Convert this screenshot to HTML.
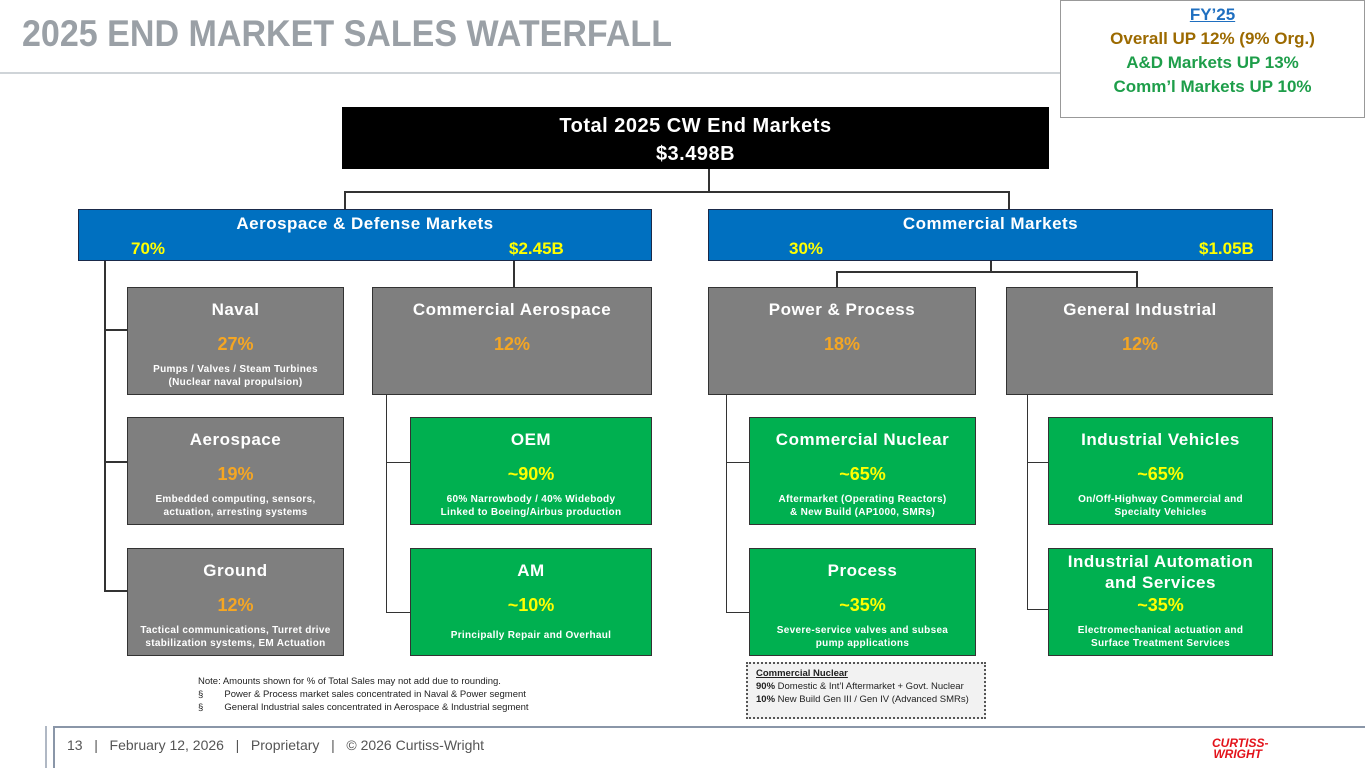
<!DOCTYPE html>
<html><head><meta charset="utf-8"><style>
body{margin:0;width:1365px;height:768px;overflow:hidden;background:#fff;font-family:"Liberation Sans",sans-serif;position:relative}
div{box-sizing:border-box}
.a{position:absolute}
.ln{position:absolute;background:#333}
.box{position:absolute;color:#fff;text-align:center;font-weight:bold;border:1px solid #333}
.gray{background:#7f7f7f}
.green{background:#00b050}
.t{position:absolute;left:0;right:0;top:12px;font-size:17px;letter-spacing:0.5px}
.p{position:absolute;left:0;right:0;top:46px;font-size:18px}
.gray .p{color:#f5a623}
.green .p{color:#ffff00}
.d{position:absolute;left:0;right:0;top:75px;font-size:10px;line-height:13px;letter-spacing:0.3px}
.blue{position:absolute;background:#0070c0;border:1px solid #1a2a4a;color:#fff;font-weight:bold}
</style></head><body>
<div class="a" style="left:22px;top:13px;font-size:37px;font-weight:bold;color:#9aa0a6;font-family:'Liberation Sans Narrow','Liberation Sans',sans-serif;transform:scaleX(0.92);transform-origin:left;white-space:nowrap">2025 END MARKET SALES WATERFALL</div>
<div class="a" style="left:0;top:72px;width:1062px;height:2px;background:#cfd4d8"></div>
<div class="a" style="left:1060px;top:0;width:305px;height:118px;border:1px solid #999;background:#fff;text-align:center;font-weight:bold;font-size:17px;line-height:24px;padding-top:2px;font-family:'Liberation Sans Narrow','Liberation Sans',sans-serif">
<div style="color:#1f6fc0;text-decoration:underline">FY’25</div>
<div style="color:#9c6a00">Overall UP 12% (9% Org.)</div>
<div style="color:#1e9e4a">A&amp;D Markets UP 13%</div>
<div style="color:#1e9e4a">Comm’l Markets UP 10%</div>
</div>
<div class="a" style="left:342px;top:107px;width:707px;height:62px;background:#000;color:#fff;text-align:center;font-weight:bold;font-size:20px;line-height:28px;padding-top:5px;letter-spacing:0.5px">Total 2025 CW End Markets<br>$3.498B</div>
<div class="ln" style="left:708px;top:169px;width:2px;height:24px"></div>
<div class="ln" style="left:344px;top:191px;width:666px;height:2px"></div>
<div class="ln" style="left:344px;top:191px;width:2px;height:18px"></div>
<div class="ln" style="left:1008px;top:191px;width:2px;height:18px"></div>
<div class="blue" style="left:78px;top:209px;width:574px;height:52px"><div class="a" style="left:0;right:0;top:4px;text-align:center;font-size:17px;letter-spacing:0.5px">Aerospace &amp; Defense Markets</div><div class="a" style="left:52px;top:29px;font-size:17px;color:#ffff00">70%</div><div class="a" style="left:430px;top:29px;font-size:17px;color:#ffff00">$2.45B</div></div>
<div class="blue" style="left:708px;top:209px;width:565px;height:52px"><div class="a" style="left:0;right:0;top:4px;text-align:center;font-size:17px;letter-spacing:0.5px">Commercial Markets</div><div class="a" style="left:80px;top:29px;font-size:17px;color:#ffff00">30%</div><div class="a" style="left:490px;top:29px;font-size:17px;color:#ffff00">$1.05B</div></div>
<div class="ln" style="left:104px;top:261px;width:2px;height:331px"></div>
<div class="ln" style="left:104px;top:329px;width:24px;height:2px"></div>
<div class="ln" style="left:104px;top:461px;width:24px;height:2px"></div>
<div class="ln" style="left:104px;top:590px;width:24px;height:2px"></div>
<div class="ln" style="left:513px;top:261px;width:2px;height:26px"></div>
<div class="ln" style="left:990px;top:261px;width:2px;height:12px"></div>
<div class="ln" style="left:836px;top:271px;width:302px;height:2px"></div>
<div class="ln" style="left:836px;top:271px;width:2px;height:16px"></div>
<div class="ln" style="left:1136px;top:271px;width:2px;height:16px"></div>
<div class="ln" style="left:386px;top:394px;width:1px;height:219px"></div>
<div class="ln" style="left:386px;top:462px;width:24px;height:1px"></div>
<div class="ln" style="left:386px;top:612px;width:24px;height:1px"></div>
<div class="ln" style="left:726px;top:394px;width:1px;height:219px"></div>
<div class="ln" style="left:726px;top:462px;width:23px;height:1px"></div>
<div class="ln" style="left:726px;top:612px;width:23px;height:1px"></div>
<div class="ln" style="left:1027px;top:394px;width:1px;height:216px"></div>
<div class="ln" style="left:1027px;top:462px;width:21px;height:1px"></div>
<div class="ln" style="left:1027px;top:609px;width:21px;height:1px"></div>

<div class="box gray" style="left:127px;top:287px;width:217px;height:108px"><div class="t">Naval</div><div class="p">27%</div><div class="d">Pumps / Valves / Steam Turbines<br>(Nuclear naval propulsion)</div></div>
<div class="box gray" style="left:372px;top:287px;width:280px;height:108px"><div class="t">Commercial Aerospace</div><div class="p">12%</div></div>
<div class="box gray" style="left:708px;top:287px;width:268px;height:108px"><div class="t">Power &amp; Process</div><div class="p">18%</div></div>
<div class="box gray" style="left:1006px;top:287px;width:267px;height:108px;border-right:none"><div class="t">General Industrial</div><div class="p">12%</div></div>

<div class="box gray" style="left:127px;top:417px;width:217px;height:108px"><div class="t">Aerospace</div><div class="p">19%</div><div class="d">Embedded computing, sensors,<br>actuation, arresting systems</div></div>
<div class="box green" style="left:410px;top:417px;width:242px;height:108px"><div class="t">OEM</div><div class="p">~90%</div><div class="d">60% Narrowbody / 40% Widebody<br>Linked to Boeing/Airbus production</div></div>
<div class="box green" style="left:749px;top:417px;width:227px;height:108px"><div class="t">Commercial Nuclear</div><div class="p">~65%</div><div class="d">Aftermarket (Operating Reactors)<br>&amp; New Build (AP1000, SMRs)</div></div>
<div class="box green" style="left:1048px;top:417px;width:225px;height:108px"><div class="t">Industrial Vehicles</div><div class="p">~65%</div><div class="d">On/Off-Highway Commercial and<br>Specialty Vehicles</div></div>

<div class="box gray" style="left:127px;top:548px;width:217px;height:108px"><div class="t">Ground</div><div class="p">12%</div><div class="d">Tactical communications, Turret drive<br>stabilization systems, EM Actuation</div></div>
<div class="box green" style="left:410px;top:548px;width:242px;height:108px"><div class="t">AM</div><div class="p">~10%</div><div class="d" style="top:80px">Principally Repair and Overhaul</div></div>
<div class="box green" style="left:749px;top:548px;width:227px;height:108px"><div class="t">Process</div><div class="p">~35%</div><div class="d">Severe-service valves and subsea<br>pump applications</div></div>
<div class="box green" style="left:1048px;top:548px;width:225px;height:108px"><div class="t" style="top:2px;line-height:21px">Industrial Automation<br>and Services</div><div class="p">~35%</div><div class="d">Electromechanical actuation and<br>Surface Treatment Services</div></div>

<div class="a" style="left:198px;top:675px;font-size:9.5px;line-height:13px;color:#222;font-family:'Liberation Sans Narrow','Liberation Sans',sans-serif">Note: Amounts shown for % of Total Sales may not add due to rounding.<br>§&nbsp;&nbsp;&nbsp;&nbsp;&nbsp;&nbsp;&nbsp;&nbsp;Power &amp; Process market sales concentrated in Naval &amp; Power segment<br>§&nbsp;&nbsp;&nbsp;&nbsp;&nbsp;&nbsp;&nbsp;&nbsp;General Industrial sales concentrated in Aerospace &amp; Industrial segment</div>
<div class="a" style="left:746px;top:662px;width:240px;height:57px;border:2px dotted #555;background:#f2f2f2;padding:3px 8px;font-size:9.5px;line-height:13px;color:#222;font-family:'Liberation Sans Narrow','Liberation Sans',sans-serif"><b style="text-decoration:underline">Commercial Nuclear</b><br><b>90%</b> Domestic &amp; Int’l Aftermarket + Govt. Nuclear<br><b>10%</b> New Build Gen III / Gen IV (Advanced SMRs)</div>

<div class="a" style="left:55px;top:726px;width:1310px;height:2px;background:#8a96a8"></div>
<div class="a" style="left:45px;top:726px;width:2px;height:42px;background:#b0b8c4"></div>
<div class="a" style="left:53px;top:726px;width:2px;height:42px;background:#8a96a8"></div>
<div class="a" style="left:67px;top:737px;font-size:14px;color:#555;font-family:'Liberation Sans Narrow','Liberation Sans',sans-serif;white-space:pre">13   |   February 12, 2026   |   Proprietary   |   © 2026 Curtiss-Wright</div>
<div class="a" style="left:1212px;top:738px;width:50px;font-size:12px;line-height:11px;font-weight:bold;font-style:italic;color:#e3131b;text-align:right">CURTISS-<br>WRIGHT</div>
</body></html>
